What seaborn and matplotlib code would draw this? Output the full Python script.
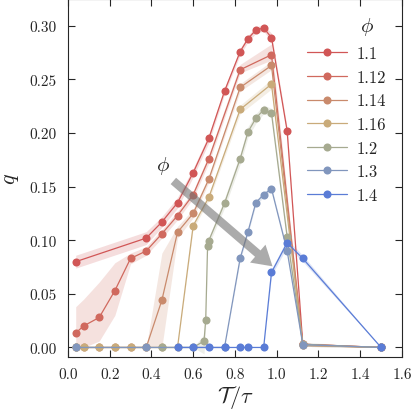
import numpy as np
import pandas as pd
import matplotlib
matplotlib.use("Agg")
import matplotlib.pyplot as plt
import seaborn as sns

# ---- data ----
phi_labels = ["1.1", "1.12", "1.14", "1.16", "1.2", "1.3", "1.4"]
colors = ["#d15656", "#d0695e", "#c98a6c", "#c9ab7a", "#a6aa90", "#8196bd", "#5a7cd6"]

x_110 = [0.0375, 0.375, 0.45, 0.525, 0.6, 0.675, 0.75, 0.825, 0.8625, 0.9, 0.9375, 0.975, 1.05, 1.125, 1.5]
q_110 = [0.080, 0.102, 0.117, 0.135, 0.163, 0.195, 0.239, 0.276, 0.288, 0.296, 0.298, 0.289, 0.202, 0.003, 0.0]
lo_110 = [0.074, 0.096, 0.112, 0.130, 0.159, 0.191, 0.236, 0.273, 0.285, 0.293, 0.295, 0.285, 0.199, 0.002, 0.0]
hi_110 = [0.086, 0.108, 0.122, 0.140, 0.167, 0.199, 0.242, 0.279, 0.291, 0.299, 0.301, 0.293, 0.205, 0.004, 0.0]

x_112 = [0.0375, 0.075, 0.15, 0.225, 0.3, 0.375, 0.45, 0.525, 0.6, 0.675, 0.825, 0.975, 1.125, 1.5]
q_112 = [0.0135, 0.020, 0.028, 0.053, 0.083, 0.090, 0.106, 0.123, 0.1425, 0.176, 0.259, 0.273, 0.003, 0.0]
lo_112 = [-0.004, 0.000, 0.006, 0.030, 0.078, 0.086, 0.102, 0.119, 0.139, 0.172, 0.256, 0.268, 0.002, 0.0]
hi_112 = [0.038, 0.045, 0.061, 0.079, 0.088, 0.094, 0.110, 0.127, 0.146, 0.180, 0.264, 0.283, 0.004, 0.0]

x_114 = [0.0375, 0.075, 0.15, 0.225, 0.3, 0.375, 0.45, 0.525, 0.6, 0.675, 0.825, 0.975, 1.125, 1.5]
q_114 = [0.0, 0.0, 0.0, 0.0, 0.0, 0.0, 0.044, 0.1075, 0.125, 0.157, 0.2425, 0.263, 0.002, 0.0]
lo_114 = [0.0, 0.0, 0.0, 0.0, 0.0, 0.0, 0.000, 0.102, 0.121, 0.154, 0.239, 0.259, 0.001, 0.0]
hi_114 = [0.0, 0.0, 0.0, 0.0, 0.0, 0.0, 0.088, 0.113, 0.129, 0.160, 0.246, 0.267, 0.003, 0.0]

x_116 = [0.0375, 0.075, 0.15, 0.225, 0.3, 0.375, 0.45, 0.525, 0.6, 0.675, 0.825, 0.975, 1.125, 1.5]
q_116 = [0.0, 0.0, 0.0, 0.0, 0.0, 0.0, 0.0, 0.0, 0.1136, 0.140, 0.222, 0.2456, 0.002, 0.0]
lo_116 = [0.0, 0.0, 0.0, 0.0, 0.0, 0.0, 0.0, 0.0, 0.111, 0.137, 0.218, 0.241, 0.001, 0.0]
hi_116 = [0.0, 0.0, 0.0, 0.0, 0.0, 0.0, 0.0, 0.0, 0.116, 0.143, 0.226, 0.250, 0.003, 0.0]

x_120 = [0.0375, 0.45, 0.6, 0.652, 0.66, 0.669, 0.675, 0.75, 0.825, 0.8625, 0.9, 0.9375, 0.975, 1.05, 1.125, 1.5]
q_120 = [0.0, 0.0, 0.0, 0.006, 0.026, 0.095, 0.0997, 0.1345, 0.176, 0.201, 0.2137, 0.2217, 0.2186, 0.103, 0.003, 0.0]
lo_120 = [0.0, 0.0, 0.0, -0.006, 0.020, 0.091, 0.096, 0.130, 0.171, 0.196, 0.209, 0.218, 0.215, 0.099, 0.001, 0.0]
hi_120 = [0.0, 0.0, 0.0, 0.012, 0.032, 0.099, 0.103, 0.139, 0.181, 0.206, 0.218, 0.226, 0.223, 0.107, 0.005, 0.0]

x_130 = [0.0375, 0.375, 0.75, 0.825, 0.8625, 0.9, 0.9375, 0.975, 1.05, 1.125, 1.5]
q_130 = [0.0, 0.0, 0.0, 0.0833, 0.108, 0.135, 0.1426, 0.148, 0.090, 0.0026, 0.0]
lo_130 = [0.0, 0.0, 0.0, 0.081, 0.106, 0.133, 0.140, 0.146, 0.088, 0.001, 0.0]
hi_130 = [0.0, 0.0, 0.0, 0.086, 0.110, 0.137, 0.145, 0.150, 0.092, 0.004, 0.0]

x_140 = [0.525, 0.6, 0.675, 0.75, 0.825, 0.8625, 0.9375, 0.975, 1.05, 1.125, 1.5]
q_140 = [0.0, 0.0, 0.0, 0.0, 0.0, 0.0, 0.0, 0.070, 0.0976, 0.083, 0.0]
lo_140 = [0.0, 0.0, 0.0, 0.0, 0.0, 0.0, 0.0, 0.067, 0.094, 0.080, 0.0]
hi_140 = [0.0, 0.0, 0.0, 0.0, 0.0, 0.0, 0.0, 0.073, 0.101, 0.086, 0.0]

xs = [x_110, x_112, x_114, x_116, x_120, x_130, x_140]
qs = [q_110, q_112, q_114, q_116, q_120, q_130, q_140]
los = [lo_110, lo_112, lo_114, lo_116, lo_120, lo_130, lo_140]
his = [hi_110, hi_112, hi_114, hi_116, hi_120, hi_130, hi_140]

# ---- style ----
sns.set_style("ticks")
plt.rcParams["font.family"] = ["cmr10", "DejaVu Serif"]
plt.rcParams["mathtext.fontset"] = "cm"
plt.rcParams["axes.formatter.use_mathtext"] = True
plt.rcParams["axes.unicode_minus"] = False

fig = plt.figure(figsize=(4.14, 4.14), dpi=100)
ax = fig.add_axes([0.164, 0.135, 0.807, 0.865])

frames = []
for lab, x, q in zip(phi_labels, xs, qs):
    frames.append(pd.DataFrame({"x": x, "q": q, "phi": lab}))
df = pd.concat(frames, ignore_index=True)

for lab, col, x, lo, hi in zip(phi_labels, colors, xs, los, his):
    ax.fill_between(x, lo, hi, color=col, alpha=0.2, linewidth=0)

sns.lineplot(data=df, x="x", y="q", hue="phi", hue_order=phi_labels,
             palette=colors, marker="o", markersize=5.8, markeredgewidth=0,
             linewidth=0.9, sort=False, estimator=None, ax=ax)

ax.annotate("", xy=(0.99, 0.074), xytext=(0.495, 0.157),
            arrowprops=dict(arrowstyle="simple,head_length=1.4,head_width=1.7,tail_width=0.6",
                            mutation_scale=10, color="0.45", alpha=0.6, linewidth=0))
ax.text(0.457, 0.170, r"$\phi$", fontsize=15, ha="center", va="center")

ax.set_xlim(0, 1.6)
ax.set_ylim(-0.009, 0.325)
ax.set_xticks(np.arange(0, 1.61, 0.2))
ax.set_yticks(np.arange(0, 0.301, 0.05))
ax.xaxis.set_major_formatter(matplotlib.ticker.FormatStrFormatter("%.1f"))
ax.yaxis.set_major_formatter(matplotlib.ticker.FormatStrFormatter("%.2f"))
ax.tick_params(direction="in", top=True, right=True, length=5, width=0.8,
               labelsize=11)
ax.tick_params(axis="x", pad=7)
ax.tick_params(axis="y", pad=8)
for s in ax.spines.values():
    s.set_linewidth(0.8)
    s.set_color("0.15")
ax.set_xlabel(r"$\mathcal{T}/\tau$", fontsize=16, labelpad=2)
ax.set_ylabel(r"$q$", fontsize=16, labelpad=6)

h, l = ax.get_legend_handles_labels()
ax.legend(h, l, frameon=False, fontsize=12, loc="upper left",
          bbox_to_anchor=(0.695, 0.888), handlelength=2.4, handletextpad=0.6,
          labelspacing=0.5, borderaxespad=0)
ax.text(1.431, 0.2996, r"$\phi$", fontsize=15, ha="center", va="center")

fig.savefig("out.png", dpi=100)
